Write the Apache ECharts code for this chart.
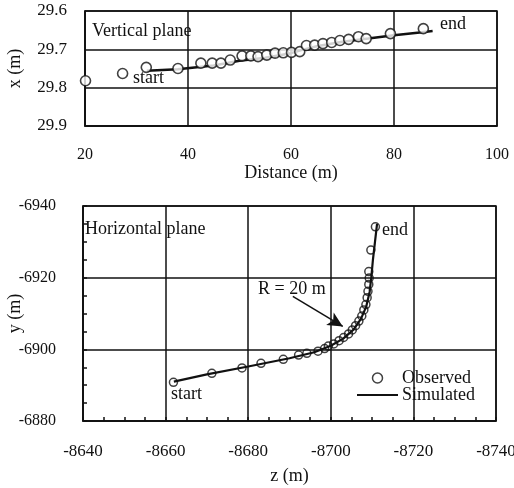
<!DOCTYPE html>
<html><head><meta charset="utf-8">
<script src="https://cdn.jsdelivr.net/npm/echarts@6/dist/echarts.min.js"></script>
<style>html,body{margin:0;padding:0;background:#fff}#c{width:514px;height:488px}</style>
</head><body><div id="c"></div>
<script>
// Vertical plane: distance (m) vs x (m)
const vObsDist = [20.1, 27.3, 31.9, 38.05, 42.5, 44.7, 46.4, 48.2, 50.5, 52.2, 53.6, 55.3, 56.9, 58.5, 60.1, 61.7, 63.0, 64.6, 66.2, 67.9, 69.5, 71.2, 73.1, 74.6, 79.3, 85.7];
const vObsX = [29.782, 29.763, 29.747, 29.750, 29.736, 29.736, 29.736, 29.728, 29.717, 29.717, 29.719, 29.715, 29.710, 29.709, 29.708, 29.706, 29.690, 29.689, 29.685, 29.682, 29.677, 29.674, 29.667, 29.672, 29.659, 29.646];
const vSimDist = [32, 38, 45, 50, 55, 60, 62, 65, 70, 75, 80, 85, 87.5];
const vSimX = [29.756, 29.752, 29.742, 29.730, 29.722, 29.710, 29.702, 29.692, 29.680, 29.672, 29.663, 29.656, 29.652];
// Horizontal plane: z (m) vs y (m)
const hObsZ = [-8661.9, -8671.2, -8678.5, -8683.1, -8688.5, -8692.2, -8694.2, -8696.9, -8698.5, -8699.4, -8700.7, -8702.0, -8703.1, -8704.3, -8705.2, -8706.0, -8706.8, -8707.5, -8708.0, -8708.5, -8708.8, -8709.0, -8709.2, -8709.3, -8709.2, -8709.7, -8710.8];
const hObsY = [-6890.8, -6893.3, -6894.8, -6896.1, -6897.2, -6898.4, -6898.9, -6899.5, -6900.2, -6900.9, -6901.5, -6902.4, -6903.3, -6904.3, -6905.4, -6906.6, -6907.9, -6909.3, -6911.0, -6912.5, -6914.4, -6916.2, -6918.1, -6919.9, -6921.7, -6927.7, -6934.2];
const hSimZ = [-8662, -8670, -8680, -8690, -8696, -8700, -8703, -8705.5, -8707.3, -8708.6, -8709.4, -8709.8, -8710.2, -8710.7, -8711.2];
const hSimY = [-6891, -6893, -6895.2, -6897.5, -6899.2, -6901, -6903, -6905.5, -6908.5, -6912, -6916, -6920, -6925, -6930, -6935];
const vTicksX = [20, 40, 60, 80, 100];
const vTicksY = [29.6, 29.7, 29.8, 29.9];
const hTicksZ = [-8740, -8720, -8700, -8680, -8660, -8640];
const hTicksY = [-6940, -6920, -6900, -6880];
const arrowFrom = [-8690.8, -6914.8];
const arrowTo = [-8702.9, -6906.4];

const zip = (a, b) => a.map((v, i) => [v, b[i]]);
const F = 'Liberation Serif';
const K = '#111';
const lbl = s => ({fontFamily: F, fontSize: s, color: K});
const nameStyle = {fontFamily: F, fontSize: 18, color: K};
const split = {show: true, lineStyle: {color: K, width: 1.5}};
const axLine = {show: true, lineStyle: {color: K, width: 1.5}};

const chart = echarts.init(document.getElementById('c'), null, {renderer: 'canvas'});
chart.setOption({
  backgroundColor: '#fff',
  animation: false,
  grid: [
    {left: 85, top: 11, width: 412, height: 115, show: true, borderColor: K, borderWidth: 1.5, containLabel: false, outerBoundsMode: 'none'},
    {left: 83, top: 206, width: 413, height: 215, show: true, borderColor: K, borderWidth: 1.5, containLabel: false, outerBoundsMode: 'none'}
  ],
  xAxis: [
    {gridIndex: 0, type: 'value', min: vTicksX[0], max: vTicksX[vTicksX.length-1], interval: 20,
     axisLine: axLine, axisTick: {show: false}, splitLine: split,
     axisLabel: Object.assign({margin: 21, formatter: v => String(v)}, lbl(16)),
     name: 'Distance (m)', nameLocation: 'middle', nameGap: 38, nameMoveOverlap: false, nameTextStyle: nameStyle},
    {gridIndex: 1, type: 'value', min: hTicksZ[0], max: hTicksZ[hTicksZ.length-1], interval: 20, inverse: true,
     axisLine: axLine, axisTick: {show: true, inside: true, length: 4, lineStyle: {color: K, width: 1.5}},
     minorTick: {show: true, splitNumber: 4, length: 4, lineStyle: {color: K, width: 1.5}},
     splitLine: split,
     axisLabel: Object.assign({margin: 22, formatter: v => String(v)}, lbl(17)),
     name: 'z (m)', nameLocation: 'middle', nameGap: 46, nameMoveOverlap: false, nameTextStyle: nameStyle}
  ],
  yAxis: [
    {gridIndex: 0, type: 'value', min: vTicksY[0], max: vTicksY[vTicksY.length-1], interval: 0.1, inverse: true,
     axisLine: axLine, axisTick: {show: false}, splitLine: split,
     axisLabel: Object.assign({margin: 18, formatter: v => v.toFixed(1)}, lbl(17)),
     name: 'x (m)', nameLocation: 'middle', nameGap: 61, nameMoveOverlap: false, nameRotate: 90, nameTextStyle: nameStyle},
    {gridIndex: 1, type: 'value', min: hTicksY[0], max: hTicksY[hTicksY.length-1], interval: 20, inverse: true,
     axisLine: axLine, axisTick: {show: true, inside: true, length: 4, lineStyle: {color: K, width: 1.5}},
     minorTick: {show: true, splitNumber: 4, length: 4, lineStyle: {color: K, width: 1.5}},
     splitLine: split,
     axisLabel: Object.assign({margin: 27, formatter: v => String(v)}, lbl(16)),
     name: 'y (m)', nameLocation: 'middle', nameGap: 59, nameMoveOverlap: false, nameRotate: 90, nameTextStyle: nameStyle}
  ],
  legend: {
    orient: 'vertical', left: 357, top: 369, padding: 0, itemWidth: 41, itemHeight: 10, itemGap: -1,
    symbolKeepAspect: true,
    textStyle: {fontFamily: F, fontSize: 18, color: K, padding: [0, 0, 0, -1]},
    data: [
      {name: 'Observed', icon: 'circle', itemStyle: {color: '#fff', borderColor: K, borderWidth: 1.5}},
      {name: 'Simulated', icon: 'path://M0,0 L41,0 L41,2.2 L0,2.2 Z', itemStyle: {color: K, borderWidth: 0}}
    ]
  },
  series: [
    {name: 'vSim', type: 'line', xAxisIndex: 0, yAxisIndex: 0, data: zip(vSimDist, vSimX), symbol: 'none',
     lineStyle: {color: K, width: 2.5}, z: 3},
    {name: 'vObs', type: 'scatter', xAxisIndex: 0, yAxisIndex: 0, data: zip(vObsDist, vObsX), symbol: 'circle', symbolSize: 10,
     itemStyle: {color: '#fff', borderColor: K, borderWidth: 1.6}, z: 4},
    {name: 'Simulated', type: 'line', xAxisIndex: 1, yAxisIndex: 1, data: zip(hSimZ, hSimY), symbol: 'none',
     color: K, itemStyle: {color: K}, lineStyle: {color: K, width: 2.2}, z: 4,
     markLine: {silent: true, symbol: ['none', 'arrow'], symbolSize: [11, 15], label: {show: false},
       lineStyle: {color: K, width: 1.5, type: 'solid'},
       data: [[{coord: arrowFrom}, {coord: arrowTo}]]}},
    {name: 'Observed', type: 'scatter', xAxisIndex: 1, yAxisIndex: 1, data: zip(hObsZ, hObsY), symbol: 'circle', symbolSize: 8,
     itemStyle: {color: 'rgba(255,255,255,0)', borderColor: K, borderWidth: 1.5}, z: 3}
  ],
  graphic: [
    {type: 'text', left: 92, top: 22, style: {text: 'Vertical plane', font: '18px "Liberation Serif"', fill: K}},
    {type: 'text', left: 133, top: 69, style: {text: 'start', font: '18px "Liberation Serif"', fill: K}},
    {type: 'text', left: 440, top: 15, style: {text: 'end', font: '18px "Liberation Serif"', fill: K}},
    {type: 'text', left: 85, top: 220, style: {text: 'Horizontal plane', font: '18px "Liberation Serif"', fill: K}},
    {type: 'text', left: 382, top: 221, style: {text: 'end', font: '18px "Liberation Serif"', fill: K}},
    {type: 'text', left: 171, top: 385, style: {text: 'start', font: '18px "Liberation Serif"', fill: K}},
    {type: 'text', left: 258, top: 280, style: {text: 'R = 20 m', font: '18px "Liberation Serif"', fill: K}}
  ]
});
</script></body></html>
